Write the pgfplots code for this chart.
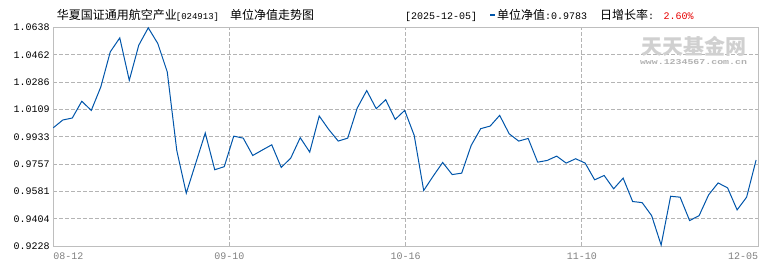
\documentclass[border=0pt]{standalone}
\usepackage{fontspec}
\usepackage{graphicx}
\usepackage{pgfplots}
\pgfplotsset{compat=1.18}
\newfontfamily\cjk{Noto Sans CJK SC}
\newfontfamily\mono{Liberation Mono}
\definecolor{navline}{HTML}{0055AA}
\definecolor{gridgray}{HTML}{B4B4B4}
\definecolor{framegray}{HTML}{BEBEBE}
\definecolor{wmgray}{HTML}{D0D0D0}
\definecolor{ticklbl}{HTML}{808080}
\definecolor{rise}{HTML}{E60000}
\begin{document}
\begin{tikzpicture}
\begin{axis}[
  scale only axis, width=704.7pt, height=218.5pt,
  xmin=0, xmax=74.2, ymin=0.9228, ymax=1.0638,
  xtick={0,18.55,37.1,55.65,74.2},
  xticklabels={\makebox[0pt][l]{08-12},09-10,10-16,11-10,\makebox[0pt][r]{12-05}},
  ytick={0.9228,0.9404,0.9581,0.9757,0.9933,1.0109,1.0286,1.0462,1.0638},
  yticklabels={0.9228,0.9404,0.9581,0.9757,0.9933,1.0109,1.0286,1.0462,1.0638},
  grid=major,
  major grid style={gridgray, dash pattern=on 4pt off 2pt, line width=0.8pt},
  major tick length=0pt,
  axis line style={framegray, line width=0.9pt},
  xticklabel style={font=\mono\fontsize{10}{10}\selectfont, text=ticklbl, anchor=north, inner sep=0pt, yshift=-6.5pt},
  yticklabel style={font=\mono\fontsize{10}{10}\selectfont, text=black, anchor=east, inner sep=0pt, xshift=-3.5pt},
  clip=false,
]
\path ([xshift=-53.3pt,yshift=-24pt]rel axis cs:0,0) rectangle ([xshift=12pt,yshift=27.5pt]rel axis cs:1,1);
\addplot[navline, line width=1pt, mark=none] table[x=i, y=v] {
i v
0 0.9991
1 1.0041
2 1.0054
3 1.0162
4 1.0103
5 1.0254
6 1.0481
7 1.0571
8 1.0297
9 1.0524
10 1.0636
11 1.0535
12 1.0351
13 0.9845
14 0.9569
15 0.9763
16 0.9957
17 0.9720
18 0.9740
19 0.9937
20 0.9924
21 0.9812
22 0.9847
23 0.9881
24 0.9735
25 0.9795
26 0.9927
27 0.9834
28 1.0067
29 0.9980
30 0.9905
31 0.9924
32 1.0118
33 1.0231
34 1.0114
35 1.0172
36 1.0045
37 1.0103
38 0.9942
39 0.9586
40 0.9679
41 0.9767
42 0.9689
43 0.9698
44 0.9877
45 0.9985
46 1.0002
47 1.0071
48 0.9952
49 0.9905
50 0.9922
51 0.9769
52 0.9780
53 0.9808
54 0.9763
55 0.9791
56 0.9763
57 0.9655
58 0.9683
59 0.9597
60 0.9666
61 0.9515
62 0.9508
63 0.9424
64 0.9234
65 0.9549
66 0.9543
67 0.9392
68 0.9424
69 0.9558
70 0.9635
71 0.9603
72 0.9461
73 0.9543
74 0.9783
};
% watermark
\node[inner sep=0pt, font=\cjk\bfseries\fontsize{21}{21}\selectfont, text=wmgray] at ([xshift=640.2pt,yshift=-18.5pt]rel axis cs:0,1) {天天基金网};
\node[inner sep=0pt, text=wmgray!85!black] at ([xshift=640.2pt,yshift=-35pt]rel axis cs:0,1) {\resizebox{107pt}{5pt}{\mono\bfseries www.1234567.com.cn}};
% title
\node[anchor=base west, inner sep=0pt, font=\cjk\fontsize{12}{12}\selectfont] at ([xshift=3.4pt,yshift=8pt]rel axis cs:0,1) {华夏国证通用航空产业};
\node[anchor=base west, inner sep=0pt, font=\mono\fontsize{9}{9}\selectfont] at ([xshift=122.4pt,yshift=8pt]rel axis cs:0,1) {[024913]};
\node[anchor=base west, inner sep=0pt, font=\cjk\fontsize{12}{12}\selectfont] at ([xshift=176.7pt,yshift=8pt]rel axis cs:0,1) {单位净值走势图};
% right header
\node[anchor=base west, inner sep=0pt, font=\mono\fontsize{10}{10}\selectfont] at ([xshift=351.7pt,yshift=8pt]rel axis cs:0,1) {[2025-12-05]};
\fill[navline] ([xshift=436.7pt,yshift=11.5pt]rel axis cs:0,1) rectangle ([xshift=441.7pt,yshift=13.5pt]rel axis cs:0,1);
\node[anchor=base west, inner sep=0pt] at ([xshift=443.7pt,yshift=8pt]rel axis cs:0,1) {{\cjk\fontsize{12}{12}\selectfont 单位净值}{\mono\fontsize{10}{10}\selectfont :0.9783}};
\node[anchor=base west, inner sep=0pt] at ([xshift=546.7pt,yshift=8pt]rel axis cs:0,1) {{\cjk\fontsize{12}{12}\selectfont 日增长率}{\mono\fontsize{10}{10}\selectfont :}};
\node[anchor=base west, inner sep=0pt, text=rise, font=\mono\fontsize{10}{10}\selectfont] at ([xshift=610pt,yshift=8pt]rel axis cs:0,1) {2.60\%};
\end{axis}
\end{tikzpicture}
\end{document}
